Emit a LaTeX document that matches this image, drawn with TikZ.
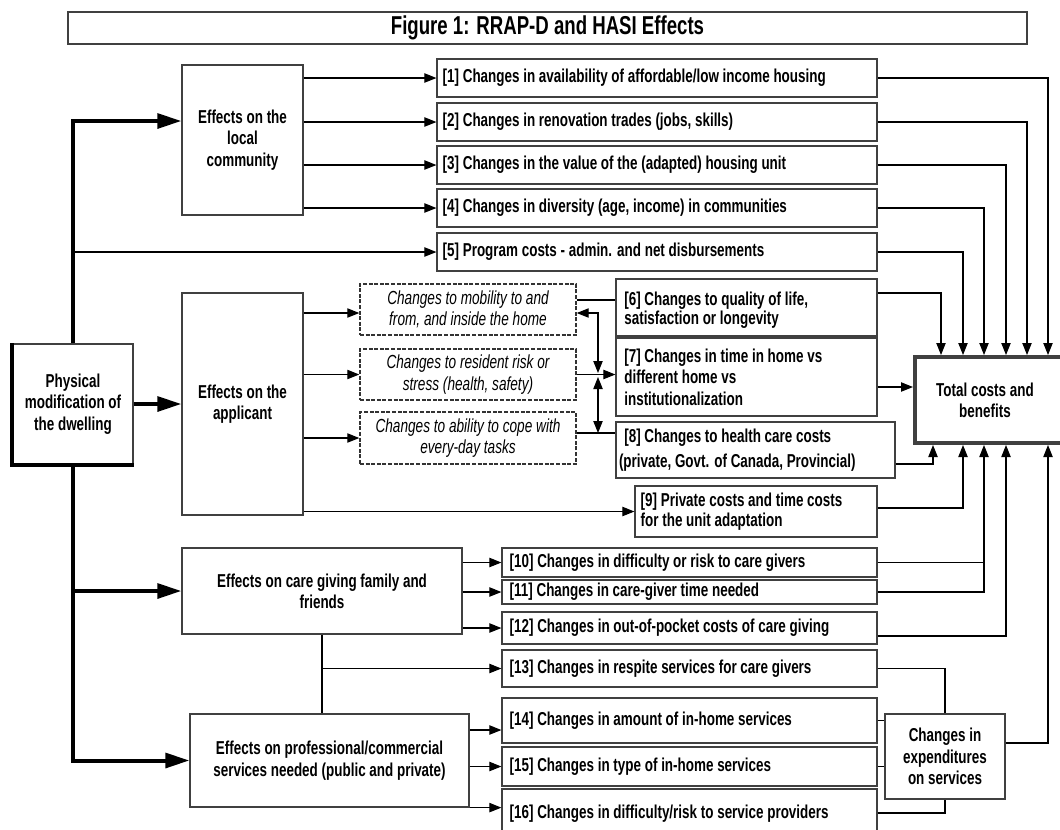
\documentclass[tikz,border=0pt]{standalone}
\usepackage{fontspec}
\setmainfont{Liberation Sans}[FakeStretch=0.72]
\usetikzlibrary{arrows.meta}
\begin{document}
\begin{tikzpicture}[x=0.75pt,y=-0.75pt,
  boxat/.style n args={4}{at={({(#1+#3)/2},{(#2+#4)/2})},
    minimum width={(#3-#1)*0.75pt}, minimum height={(#4-#2)*0.75pt}},
  box/.style={draw=black!75, line width=0.9pt, inner sep=0pt, align=center,
    font=\bfseries\fontsize{14}{16}\selectfont},
  dbox/.style={draw=black!80, line width=1.1pt, dash pattern=on 3pt off 1.2pt, inner sep=0pt,
    align=center, font=\itshape\fontsize{14.2}{16}\selectfont},
  lbl/.style={inner sep=0pt, align=left, font=\bfseries\fontsize{14}{15}\selectfont},
  conn/.style={draw=black, line width=0.8pt},
  arr/.style={conn, -{Triangle[length=9pt,width=7pt]}},
  dblarr/.style={conn, {Triangle[length=9pt,width=7pt]}-{Triangle[length=9pt,width=7pt]}},
  thk/.style={draw=black, line width=3pt},
  thkarr/.style={thk, -{Triangle[length=18pt,width=11pt]}}
]
\useasboundingbox (0,0) rectangle (1060,829);

% title
\node[box, boxat={68}{12}{1027}{44}, font=\bfseries\fontsize{19.4}{20}\selectfont] (title) {Figure 1: RRAP-D and HASI Effects};

% left column
\node[box, boxat={13}{344}{133}{464}, line width=1.4pt] (phys) {Physical\\modification of\\the dwelling};
\draw[line width=3pt] (phys.north west) -- (phys.south west) -- (phys.south east);

\node[box, boxat={182}{65}{303}{215}] (comm) {Effects on the\\local\\community};
\node[box, boxat={182}{293}{303}{515}] (appl) {Effects on the\\applicant};
\node[box, boxat={182}{548}{462}{634}] (care) {Effects on care giving family and\\friends};
\node[box, boxat={190}{714}{469}{807}] (prof) {Effects on professional/commercial\\services needed (public and private)};

% effect boxes
\node[box, boxat={437}{59}{877}{97}] (b1) {};
\node[box, boxat={437}{103}{877}{141}] (b2) {};
\node[box, boxat={437}{146}{877}{184}] (b3) {};
\node[box, boxat={437}{189}{877}{227}] (b4) {};
\node[box, boxat={437}{233}{877}{271}] (b5) {};
\node[box, boxat={616}{279}{877}{336}] (b6) {};
\node[box, boxat={616}{338}{877}{416}] (b7) {};
\node[box, boxat={616}{422}{895}{478}] (b8) {};
\node[box, boxat={635}{486}{877}{537}] (b9) {};
\node[box, boxat={502}{548}{877}{577}] (b10) {};
\node[box, boxat={502}{580}{877}{604}] (b11) {};
\node[box, boxat={502}{612}{877}{644}] (b12) {};
\node[box, boxat={502}{650}{877}{687}] (b13) {};
\node[box, boxat={502}{698}{877}{743}] (b14) {};
\node[box, boxat={502}{747}{877}{786}] (b15) {};
\node[box, boxat={502}{789}{877}{834}] (b16) {};

\node[lbl, anchor=west] (t1) at ([xshift=4.5pt]b1.west) {[1] Changes in availability of affordable/low income housing};
\node[lbl, anchor=west] (t2) at ([xshift=4.5pt]b2.west) {[2] Changes in renovation trades (jobs, skills)};
\node[lbl, anchor=west] (t3) at ([xshift=4.5pt]b3.west) {[3] Changes in the value of the (adapted) housing unit};
\node[lbl, anchor=west] (t4) at ([xshift=4.5pt]b4.west) {[4] Changes in diversity (age, income) in communities};
\node[lbl, anchor=west] (t5) at ([xshift=4.5pt]b5.west) {[5] Program costs - admin. and net disbursements};
\node[lbl, anchor=west, font=\bfseries\fontsize{14}{14}\selectfont] (t6) at ([xshift=6.5pt,yshift=-2pt]b6.west) {[6] Changes to quality of life,\\satisfaction or longevity};
\node[lbl, anchor=west, font=\bfseries\fontsize{14}{16}\selectfont] (t7) at ([xshift=6.5pt]b7.west) {[7] Changes in time in home vs\\different home vs\\institutionalization};
\node[lbl, anchor=west, font=\bfseries\fontsize{14}{19}\selectfont] (t8) at ([xshift=2.5pt]b8.west) {\hspace{4pt}[8] Changes to health care costs\\(private, Govt. of Canada, Provincial)};
\node[lbl, anchor=west] (t9) at ([xshift=4.5pt]b9.west) {[9] Private costs and time costs\\for the unit adaptation};
\node[lbl, anchor=west] (t10) at ([xshift=6pt]b10.west) {[10] Changes in difficulty or risk to care givers};
\node[lbl, anchor=west] (t11) at ([xshift=6pt]b11.west) {[11] Changes in care-giver time needed};
\node[lbl, anchor=west] (t12) at ([xshift=6pt]b12.west) {[12] Changes in out-of-pocket costs of care giving};
\node[lbl, anchor=west] (t13) at ([xshift=6pt]b13.west) {[13] Changes in respite services for care givers};
\node[lbl, anchor=west] (t14) at ([xshift=6pt]b14.west) {[14] Changes in amount of in-home services};
\node[lbl, anchor=west] (t15) at ([xshift=6pt]b15.west) {[15] Changes in type of in-home services};
\node[lbl, anchor=west] (t16) at ([xshift=6pt,yshift=-2pt]b16.west) {[16] Changes in difficulty/risk to service providers};

% dashed boxes
\node[dbox, boxat={360}{284}{576}{335}] (dA) {Changes to mobility to and\\from, and inside the home};
\node[dbox, boxat={360}{349}{576}{400}] (dB) {Changes to resident risk or\\stress (health, safety)};
\node[dbox, boxat={360}{412}{576}{464}] (dC) {Changes to ability to cope with\\every-day tasks};

% right boxes
\node[box, boxat={915}{357}{1075}{443}, line width=3pt] (tot) {};
\node[inner sep=0pt, align=center, font=\bfseries\fontsize{14}{16}\selectfont] (tottxt) at (985,400) {Total costs and\\benefits};
\node[box, boxat={885}{714}{1005}{799}] (chg) {Changes in\\expenditures\\on services};

% thick spine
\draw[thkarr] (phys.north) |- (comm.west |- 0,121);
\draw[thkarr] (phys.south) |- (care.west);
\draw[thkarr] (phys.south) |- (prof.west);
\draw[thkarr] (phys.east) -- (appl.west);
\draw[arr] (phys.north |- b5.west) -- (b5.west);

% community
\draw[arr] (comm.east |- b1.west) -- (b1.west);
\draw[arr] (comm.east |- b2.west) -- (b2.west);
\draw[arr] (comm.east |- b3.west) -- (b3.west);
\draw[arr] (comm.east |- b4.west) -- (b4.west);

% applicant
\draw[arr] (appl.east |- 0,313) -- (dA.west |- 0,313);
\draw[arr] (appl.east |- dB.west) -- (dB.west);
\draw[arr] (appl.east |- dC.west) -- (dC.west);
\draw[arr] (appl.east |- b9.west) -- (b9.west);

% dashed box links
\draw[conn] (dA.east |- 0,300) -- (b6.west |- 0,300);
\draw[arr] (dB.east) -- (b7.west |- dB.east);
\draw[conn] (dC.east |- 0,433) -- (b8.west |- 0,433);
\coordinate (v1) at (598,373);
\coordinate (v2) at (598,377);
\coordinate (v3) at (598,433);
\draw[dblarr] (v1) |- (dA.east |- 0,313);
\draw[dblarr] (v2) -- (v3);

% care giving
\draw[arr] (care.east |- b10.west) -- (b10.west);
\draw[arr] (care.east |- b11.west) -- (b11.west);
\draw[arr] (care.east |- b12.west) -- (b12.west);
\draw[conn] (care.south) -- (care.south |- prof.north);
\draw[arr] (care.south |- b13.west) -- (b13.west);

% professional
\draw[arr] (prof.east |- 0,730) -- (b14.west |- 0,730);
\draw[arr] (prof.east |- b15.west) -- (b15.west);
\draw[arr] (prof.south east) -- (prof.south east -| b16.west);

% to total (top)
\draw[arr] (b1.east) -| (1048,0 |- tot.north);
\draw[arr] (b2.east) -| (1027,0 |- tot.north);
\draw[arr] (b3.east) -| (1006,0 |- tot.north);
\draw[arr] (b4.east) -| (984,0 |- tot.north);
\draw[arr] (b5.east) -| (963,0 |- tot.north);
\draw[arr] (b6.east |- 0,293) -| (941,0 |- tot.north);
\draw[arr] (b7.east |- 0,387) -- (tot.west |- 0,387);

% to total (bottom)
\draw[arr] (b8.east |- 0,464) -| (933,0 |- tot.south);
\draw[arr] (b9.east |- 0,508) -| (963,0 |- tot.south);
\draw[conn] (b10.east) -| (984,0 |- b11.east);
\draw[arr] (b11.east) -| (984,0 |- tot.south);
\draw[arr] (b12.east |- 0,636) -| (1006,0 |- tot.south);
\draw[arr] (chg.east |- 0,743) -| (1048,0 |- tot.south);

% to changes in expenditures
\draw[conn] (b13.east) -| (chg.north);
\draw[conn] (b14.east) -- (chg.west |- b14.east);
\draw[conn] (b15.east) -- (chg.west |- b15.east);
\draw[conn] (b16.east |- 0,813) -| (chg.south);
\end{tikzpicture}
\end{document}
